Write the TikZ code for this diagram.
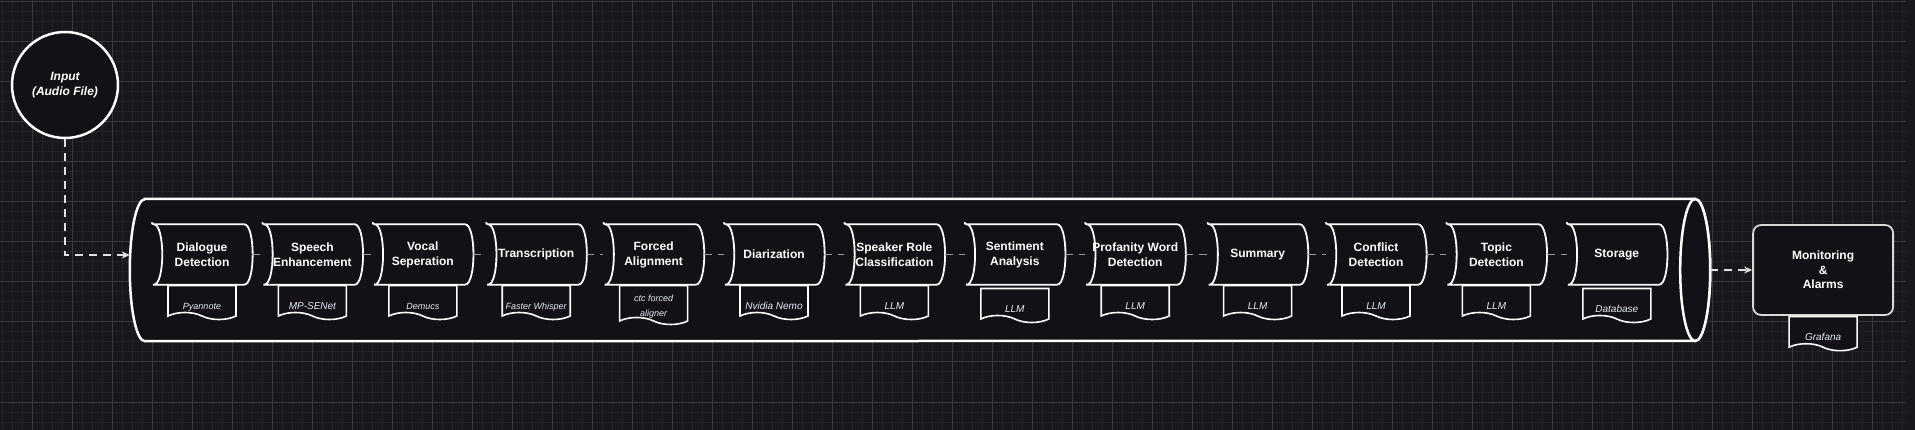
\documentclass[tikz,border=0pt]{standalone}
\usepackage{fontspec}
\setmainfont{Liberation Sans}
\usetikzlibrary{positioning,shapes.symbols,arrows.meta}

\definecolor{canvas}{HTML}{18171C}
\definecolor{gridminor}{HTML}{222126}
\definecolor{gridmajor}{HTML}{3A393E}
\definecolor{boxfill}{HTML}{131115}
\definecolor{linkgray}{HTML}{9A9A9A}
\definecolor{doctext}{HTML}{E6EAF4}

\begin{document}
\begin{tikzpicture}[x=1pt,y=-1pt,
  pipeline/.style={draw=white, line width=2.5pt, fill=boxfill},
  stagebox/.style={minimum width=100pt, minimum height=60pt, inner sep=0pt,
    align=center, text=white, font=\bfseries\fontsize{12}{15}\selectfont,
    append after command={\pgfextra{\draw[white, line width=1.8pt, rounded corners=2pt]
      (\tikzlastnode.north west) -- ([xshift=-10pt]\tikzlastnode.north east)
      .. controls +(13.3pt,0pt) and +(13.3pt,0pt) .. ([xshift=-10pt]\tikzlastnode.south east)
      -- (\tikzlastnode.south west)
      .. controls +(13.3pt,0pt) and +(13.3pt,0pt) .. (\tikzlastnode.north west) -- cycle;}}},
  doc/.style={tape, tape bend top=none, tape bend bottom=out and in, tape bend height=7pt,
    draw=white, line width=1.6pt, fill=boxfill, minimum width=68pt, minimum height=33pt,
    inner sep=1pt, align=center, text height=23pt, text depth=2pt, text=doctext,
    font=\itshape\fontsize{10}{15}\selectfont},
  docsmall/.style={doc, font=\itshape\fontsize{9}{15}\selectfont},
  link/.style={draw=linkgray, line width=1.3pt, dash pattern=on 8pt off 6pt},
  flow/.style={draw=white!88!black, line width=1.3pt, dash pattern=on 8pt off 6pt,
    -{Stealth[length=8pt,width=7pt,inset=2.5pt]}}]

\useasboundingbox (0,0) rectangle (1915,430);

% dark canvas with grid
\fill[canvas] (0,0) rectangle (1915,430);
\foreach \gx in {2,12,...,1902} \draw[gridminor, line width=1pt] (\gx,0) -- (\gx,430);
\foreach \gy in {2,12,...,422} \draw[gridminor, line width=1pt] (0,\gy) -- (1906,\gy);
\foreach \gx in {32,72,...,1872} \draw[gridmajor, line width=1pt] (\gx,0) -- (\gx,430);
\foreach \gy in {2,42,...,402} \draw[gridmajor, line width=1pt] (0,\gy) -- (1906,\gy);

\node (in) [circle, draw=white, line width=2.5pt, fill=boxfill, minimum size=106pt, inner sep=0pt,
  align=center, text=white, font=\bfseries\itshape\fontsize{12}{15}\selectfont] at (65,85) {Input\\(Audio File)};

% the horizontal cylinder
\node (pipe) [minimum width=1580pt, minimum height=142pt, inner sep=0pt] at (920,270) {};
\draw[pipeline] ([xshift=15pt]pipe.north west) -- ([xshift=-15pt]pipe.north east)
  arc[start angle=90, end angle=-90, x radius=15pt, y radius=71pt]
  -- ([xshift=15pt]pipe.south west)
  arc[start angle=270, end angle=90, x radius=15pt, y radius=71pt] -- cycle;
\draw[pipeline] ([xshift=-15pt]pipe.east) ellipse [x radius=15pt, y radius=71pt];

% pipeline stages
\node (dd) [stagebox] at (202,254.5) {Dialogue\\Detection};
\node (se) [stagebox, right=10pt of dd] {Speech\\Enhancement};
\node (vs) [stagebox, right=10pt of se] {Vocal\\Seperation};
\node (tr) [stagebox, right=13pt of vs] {Transcription};
\node (fa) [stagebox, right=17pt of tr] {Forced\\Alignment};
\node (di) [stagebox, right=20pt of fa] {Diarization};
\node (sr) [stagebox, right=20pt of di] {Speaker Role\\Classification};
\node (sa) [stagebox, right=20pt of sr] {Sentiment\\Analysis};
\node (pw) [stagebox, right=20pt of sa] {Profanity Word\\Detection};
\node (su) [stagebox, right=22pt of pw] {Summary};
\node (cd) [stagebox, right=18pt of su] {Conflict\\Detection};
\node (td) [stagebox, right=20pt of cd] {Topic\\Detection};
\node (st) [stagebox, right=20pt of td] {Storage};

% tools
\node (ddt) [docsmall, below=0pt of dd] {Pyannote};
\node (set) [doc, below=0pt of se] {MP-SENet};
\node (vst) [docsmall, below=0pt of vs] {Demucs};
\node (trt) [docsmall, below=0pt of tr] {Faster Whisper};
\node (fat) [docsmall, text height=30pt, text depth=-5pt, below=0pt of fa] {ctc forced\\aligner};
\node (dit) [doc, below=0pt of di] {Nvidia Nemo};
\node (srt) [doc, below=0pt of sr] {LLM};
\node (sat) [doc, below=3pt of sa] {LLM};
\node (pwt) [doc, below=0pt of pw] {LLM};
\node (sut) [doc, below=0pt of su] {LLM};
\node (cdt) [doc, below=0pt of cd] {LLM};
\node (tdt) [doc, below=0pt of td] {LLM};
\node (stt) [doc, below=3pt of st] {Database};

\node (mon) [draw=white!85!black, line width=1.8pt, rounded corners=8pt, fill=boxfill,
  minimum width=140pt, minimum height=90pt, align=center, text=white,
  font=\bfseries\fontsize{12}{14.5}\selectfont, right=42pt of pipe] {Monitoring\\\&\\Alarms};
\node (mont) [doc, below=0pt of mon] {Grafana};

\foreach \a/\b in {dd/se, se/vs, vs/tr, tr/fa, fa/di, di/sr, sr/sa, sa/pw, pw/su, su/cd, cd/td, td/st}
  \draw[link] (\a) -- (\b);

\draw[flow] (in.south) |- ([yshift=15pt]pipe.west);
\draw[flow] (pipe.east) -- (mon.west);

\end{tikzpicture}
\end{document}
